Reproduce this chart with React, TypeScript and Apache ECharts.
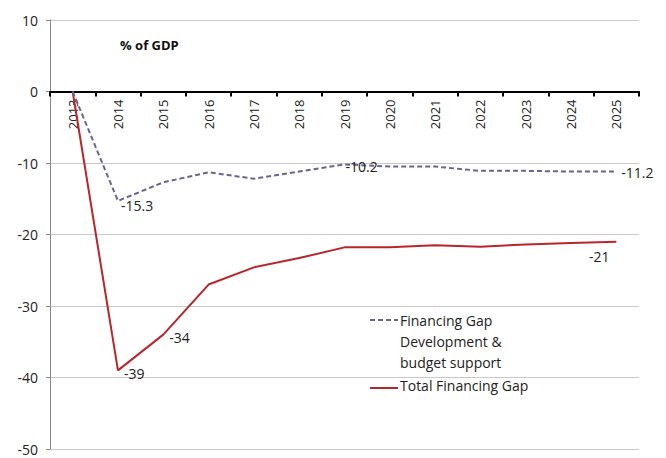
import React, { useEffect, useRef } from "react";
import * as echarts from "echarts";

const years = ["2013", "2014", "2015", "2016", "2017", "2018", "2019", "2020", "2021", "2022", "2023", "2024", "2025"];
const devBudgetGap = [0, -15.3, -12.7, -11.3, -12.2, -11.2, -10.2, -10.5, -10.5, -11.1, -11.1, -11.2, -11.2];
const totalGap = [0, -39, -34, -27, -24.6, -23.3, -21.8, -21.8, -21.5, -21.7, -21.4, -21.2, -21];
const devLabelIdx = [1, 6, 12];
const totalLabelIdx = [1, 2, 12];
const yTicks = [-50, -40, -30, -20, -10, 0, 10];

const FONT = "'Open Sans', 'Liberation Sans', sans-serif";

export default function App() {
  const ref = useRef<HTMLDivElement>(null);
  useEffect(() => {
    if (!ref.current) return;
    const chart = echarts.init(ref.current, undefined, { renderer: "svg" });
    const devData = devBudgetGap.map((v, i) =>
      devLabelIdx.includes(i)
        ? {
            value: v,
            label: {
              show: true,
              position: "right",
              distance: 3,
              offset: i === 1 ? [0, 5] : i === 12 ? [2, 1] : [-2, 2],
              formatter: String(v),
            },
          }
        : v
    );
    const totalData = totalGap.map((v, i) =>
      totalLabelIdx.includes(i)
        ? {
            value: v,
            label: {
              show: true,
              position: i === 12 ? "bottom" : "right",
              distance: i === 12 ? 8 : 6,
              offset: i === 12 ? [-17, 0] : [0, 3],
              formatter: String(v),
            },
          }
        : v
    );
    const gridTop = 20;
    const gridBottomY = 449;
    const gridH = gridBottomY - gridTop;
    const yMin = yTicks[0];
    const yMax = yTicks[yTicks.length - 1];
    const zeroOffset = -(gridH * (0 - yMin)) / (yMax - yMin);
    chart.setOption({
      animation: false,
      textStyle: { fontFamily: FONT },
      grid: {
        left: 50,
        right: 27,
        top: gridTop,
        bottom: 458 - gridBottomY,
        containLabel: false,
        outerBoundsMode: "none",
      },
      xAxis: {
        type: "category",
        data: years,
        boundaryGap: true,
        position: "bottom",
        offset: zeroOffset,
        axisLine: { onZero: false, lineStyle: { color: "#000", width: 2 } },
        axisTick: { show: true, length: 5, alignWithLabel: false, lineStyle: { color: "#000", width: 2 } },
        axisLabel: { interval: 0, rotate: 90, margin: 8, fontSize: 13, color: "#222", fontFamily: FONT },
        splitLine: { show: false },
      },
      yAxis: {
        type: "value",
        min: yMin,
        max: yMax,
        interval: 10,
        axisLine: { show: true, lineStyle: { color: "#888", width: 1 } },
        axisTick: { show: true, length: 4, lineStyle: { color: "#888" } },
        axisLabel: { fontSize: 14, color: "#222", margin: 12, fontFamily: FONT },
        splitLine: { show: true, lineStyle: { color: "#c8c8c8", width: 1 } },
      },
      series: [
        {
          name: "Financing Gap Development & budget support",
          type: "line",
          data: devData,
          symbol: "circle",
          symbolSize: 0,
          showSymbol: true,
          showAllSymbol: true,
          lineStyle: { color: "#6a6490", width: 2, type: [5, 3] },
          itemStyle: { color: "#6a6490" },
          label: { fontSize: 14, color: "#222", fontFamily: FONT },
          z: 3,
        },
        {
          name: "Total Financing Gap",
          type: "line",
          data: totalData,
          symbol: "circle",
          symbolSize: 0,
          showSymbol: true,
          showAllSymbol: true,
          lineStyle: { color: "#b8262c", width: 2 },
          itemStyle: { color: "#b8262c" },
          label: { fontSize: 14, color: "#222", fontFamily: FONT },
          z: 2,
        },
      ],
      graphic: [
        {
          type: "text",
          left: 120,
          top: 38,
          style: { text: "% of GDP", font: `bold 13px ${FONT}`, fill: "#111" },
        },
        {
          type: "line",
          shape: { x1: 370, y1: 320, x2: 398, y2: 320 },
          style: { stroke: "#6a6490", lineWidth: 2, lineDash: [5, 3] },
        },
        {
          type: "text",
          x: 400,
          y: 310,
          style: {
            text: "Financing Gap\nDevelopment &\nbudget support",
            font: `14px ${FONT}`,
            fill: "#222",
            lineHeight: 21,
          },
        },
        {
          type: "line",
          shape: { x1: 370, y1: 388, x2: 398, y2: 388 },
          style: { stroke: "#b8262c", lineWidth: 2 },
        },
        {
          type: "text",
          x: 400,
          y: 378,
          style: { text: "Total Financing Gap", font: `14px ${FONT}`, fill: "#222" },
        },
      ],
    });
    return () => chart.dispose();
  }, []);
  return <div ref={ref} style={{ width: 666, height: 458, marginLeft: -8, marginTop: -8 }} />;
}
